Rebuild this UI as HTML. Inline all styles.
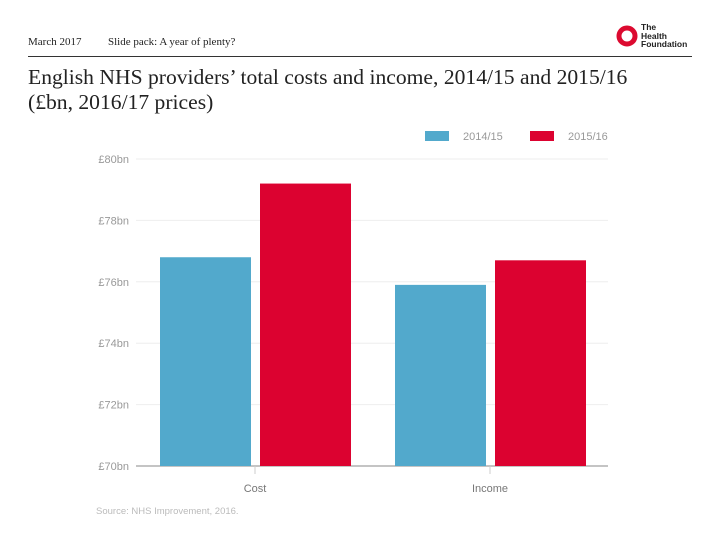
<!DOCTYPE html>
<html><head><meta charset="utf-8"><style>
body{margin:0;width:720px;height:540px;background:#fff;position:relative;overflow:hidden;font-family:"Liberation Sans",sans-serif}
.a{position:absolute;white-space:nowrap}
.serif{font-family:"Liberation Serif",serif;color:#222}
</style></head><body>
<div class="a serif" style="left:28px;top:36px;font-size:11px">March 2017</div>
<div class="a serif" style="left:108px;top:36px;font-size:11px">Slide pack: A year of plenty?</div>
<div class="a" style="left:616px;top:25px;width:22px;height:22px">
<svg width="22" height="22"><circle cx="11" cy="11" r="8" fill="none" stroke="#dc0a30" stroke-width="5"/></svg></div>
<div class="a" style="left:641px;top:23px;font-size:8.5px;line-height:8.5px;font-weight:bold;color:#222">The<br>Health<br>Foundation</div>
<div class="a" style="left:28px;top:56px;width:664px;height:1px;background:#333"></div>
<div class="a serif" style="left:28px;top:65px;font-size:21.6px;line-height:25px">English NHS providers’ total costs and income, 2014/15 and 2015/16<br>(£bn, 2016/17 prices)</div>
<svg class="a" style="left:0;top:0" width="720" height="540" id="c"></svg>
<script>
const categories=["Cost","Income"];
const series1=[76.8,75.9];
const series2=[79.2,76.7];
const seriesNames=["2014/15","2015/16"];
const ticks=[70,72,74,76,78,80];
const tickLabels=["£70bn","£72bn","£74bn","£76bn","£78bn","£80bn"];
const NS="http://www.w3.org/2000/svg",svg=document.getElementById('c');
const y=v=>466-(v-70)*(466-159)/10;
const cx=i=>255+i*235;
function mk(t,a){const e=document.createElementNS(NS,t);for(const k in a)e.setAttribute(k,a[k]);svg.appendChild(e);return e;}
ticks.forEach((t,i)=>{
 const g=mk('line',{x1:136,x2:608,y1:y(t),y2:y(t),stroke:t===70?'#888':'#eee','stroke-width':1});
 
 
 const l=mk('text',{x:129,y:y(t)+4,'text-anchor':'end','font-size':11,fill:'#999'});
 l.textContent=tickLabels[i];
 
 
});
const cols=['#52a9cc','#dc0230'];
categories.forEach((c,i)=>{
 [series1[i],series2[i]].forEach((v,j)=>{
  const x=j===0?cx(i)-95:cx(i)+5;
  const r=mk('rect',{x:x,y:y(v),width:91,height:y(70)-y(v),fill:cols[j]});
  
  
 });
 const tk=mk('line',{x1:cx(i),x2:cx(i),y1:466,y2:474,stroke:'#ccc'});
 
 
 const t=mk('text',{x:cx(i),y:492,'text-anchor':'middle','font-size':11,fill:'#777'});
 t.textContent=c;
 
 
});
seriesNames.forEach((n,j)=>{
 const lx=425+j*105;
 const r=mk('rect',{x:lx,y:131,width:24,height:10,fill:cols[j]});
 
 
 const t=mk('text',{x:lx+38,y:140,'font-size':11,fill:'#999'});
 t.textContent=n;
 
 
});
const s=mk('text',{x:96,y:514,'font-size':9.5,fill:'#bbb'});
s.textContent='Source: NHS Improvement, 2016.';


</script>
</body></html>
